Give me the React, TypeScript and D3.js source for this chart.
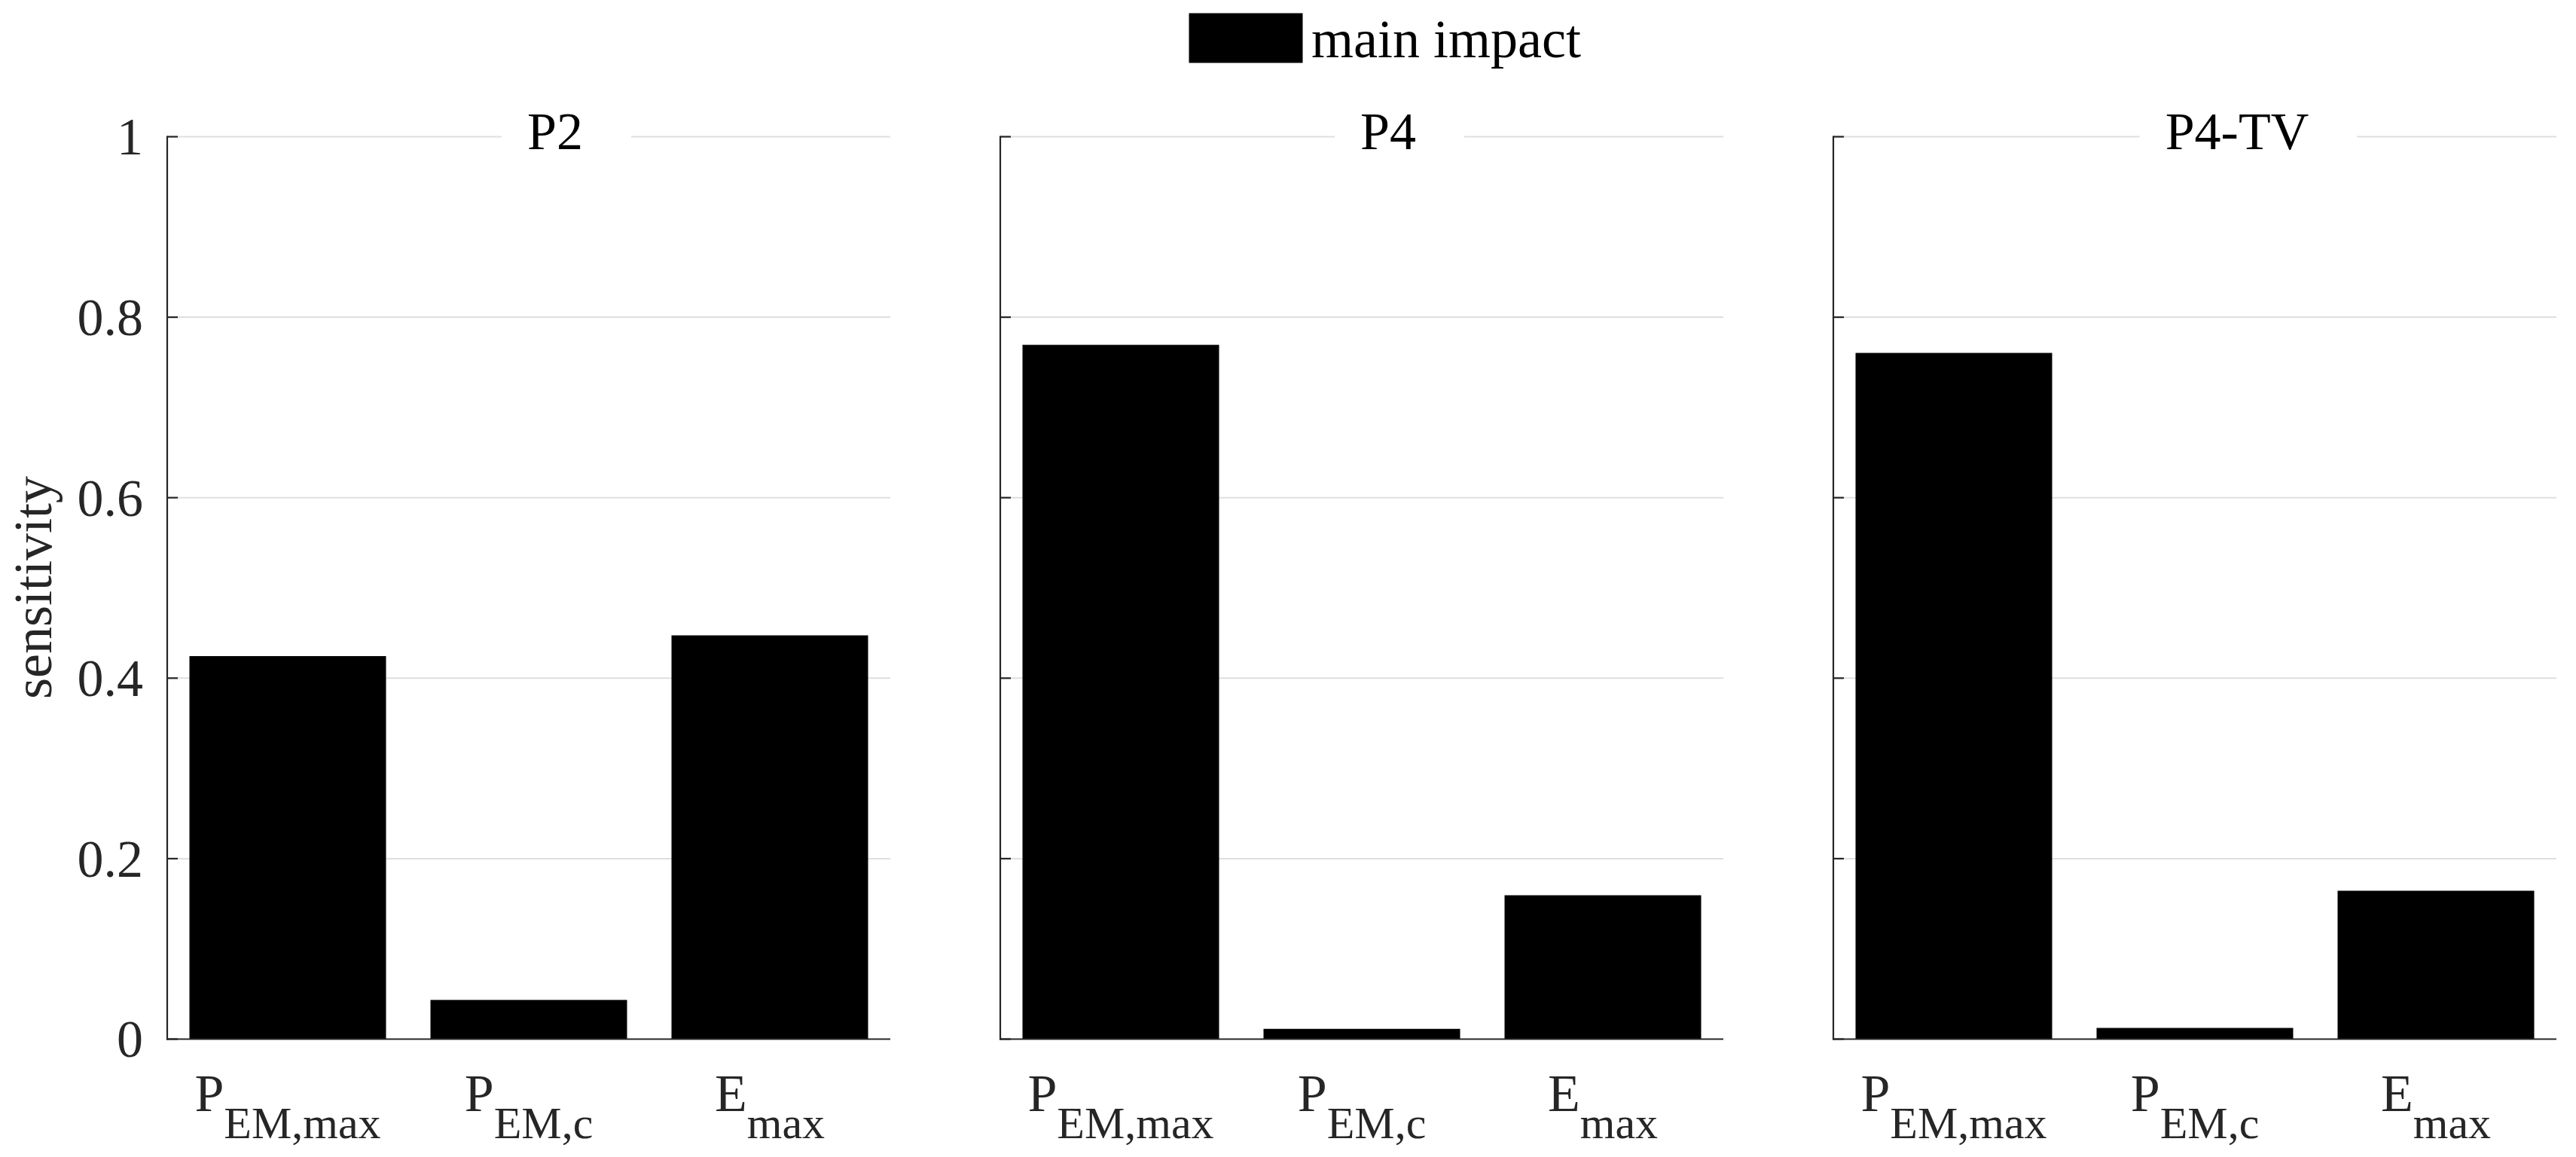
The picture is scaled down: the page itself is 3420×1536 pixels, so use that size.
import React from "react";
import * as d3 from "d3";

const categories = ["PEM,max", "PEM,c", "Emax"];
const labelMain = ["P", "P", "E"];
const labelSub = ["EM,max", "EM,c", "max"];
const panelTitles = ["P2", "P4", "P4-TV"];
const valuesP2 = [0.424, 0.043, 0.447];
const valuesP4 = [0.769, 0.011, 0.159];
const valuesP4TV = [0.76, 0.012, 0.164];
const yTicks = [0, 0.2, 0.4, 0.6, 0.8, 1];
const legendLabel = "main impact";
const yLabel = "sensitivity";

const W = 3420;
const H = 1536;
const FONT = "'Liberation Serif', 'Times New Roman', serif";
const AXC = "#262626";

const panelLefts = [222, 1328, 2434];
const panelWidth = 960;
const yTop = 181.5;
const yBottom = 1379.5;

// approximate Times advance widths (em) for title box sizing
const charW: Record<string, number> = { P: 0.556, "2": 0.5, "4": 0.5, "-": 0.333, T: 0.611, V: 0.722 };
const textWidth = (s: string, size: number) =>
  s.split("").reduce((a, c) => a + (charW[c] ?? 0.5), 0) * size;

export default function App() {
  const series = [valuesP2, valuesP4, valuesP4TV];
  const y = d3.scaleLinear().domain([0, 1]).range([yBottom, yTop]);

  return (
    <svg
      width={W}
      height={H}
      style={{ position: "absolute", left: 0, top: 0, background: "#fff" }}
      fontFamily={FONT}
    >
      <rect x={0} y={0} width={W} height={H} fill="#fff" />
      {/* legend */}
      <rect x={1579} y={18} width={150} height={65} fill="#000" stroke="#000" strokeWidth={1} />
      <text x={1741} y={76} fontSize={72} fill="#000">
        {legendLabel}
      </text>
      {/* y label */}
      <text
        transform={`translate(68, ${780}) rotate(-90)`}
        textAnchor="middle"
        fontSize={72}
        fill={AXC}
      >
        {yLabel}
      </text>
      {series.map((vals, pi) => {
        const left = panelLefts[pi];
        const x = d3
          .scaleBand<string>()
          .domain(categories)
          .range([left, left + panelWidth])
          .paddingInner(0.1875)
          .paddingOuter(0.09375);
        const tw = textWidth(panelTitles[pi], 70);
        const tc = left + 515 + 0.18 * (tw - 74);
        return (
          <g key={pi}>
            {/* gridlines */}
            {yTicks
              .filter((t) => t > 0)
              .map((t) => (
                <line
                  key={t}
                  x1={left}
                  x2={left + panelWidth}
                  y1={y(t)}
                  y2={y(t)}
                  stroke="#dfdfdf"
                  strokeWidth={2}
                />
              ))}
            {/* title with white background */}
            <rect x={tc - tw / 2 - 34} y={150} width={tw + 98} height={60} fill="#fff" />
            <text x={tc} y={198} textAnchor="middle" fontSize={70} fill="#000">
              {panelTitles[pi]}
            </text>
            {/* bars */}
            {vals.map((v, i) => (
              <rect
                key={i}
                x={x(categories[i])!}
                y={y(v)}
                width={x.bandwidth()}
                height={y(0) - y(v)}
                fill="#000"
                stroke="#000"
                strokeWidth={1}
              />
            ))}
            {/* axes */}
            <line x1={left} x2={left} y1={yTop - 1} y2={yBottom + 1} stroke={AXC} strokeWidth={2.2} />
            <line x1={left - 1} x2={left + panelWidth} y1={yBottom} y2={yBottom} stroke={AXC} strokeWidth={2.2} />
            {yTicks.map((t) => (
              <line key={t} x1={left} x2={left + 14} y1={y(t)} y2={y(t)} stroke={AXC} strokeWidth={2.2} />
            ))}
            {pi === 0 &&
              yTicks.map((t) => (
                <text
                  key={t}
                  x={left - 32}
                  y={y(t)}
                  dy="0.34em"
                  textAnchor="end"
                  fontSize={70}
                  fill={AXC}
                >
                  {String(t)}
                </text>
              ))}
            {/* x labels */}
            {categories.map((c, i) => (
              <text
                key={c}
                x={x(c)! + x.bandwidth() / 2}
                y={1475}
                textAnchor="middle"
                fill={AXC}
              >
                <tspan fontSize={70}>{labelMain[i]}</tspan>
                <tspan fontSize={60} dy={36}>
                  {labelSub[i]}
                </tspan>
              </text>
            ))}
          </g>
        );
      })}
    </svg>
  );
}
